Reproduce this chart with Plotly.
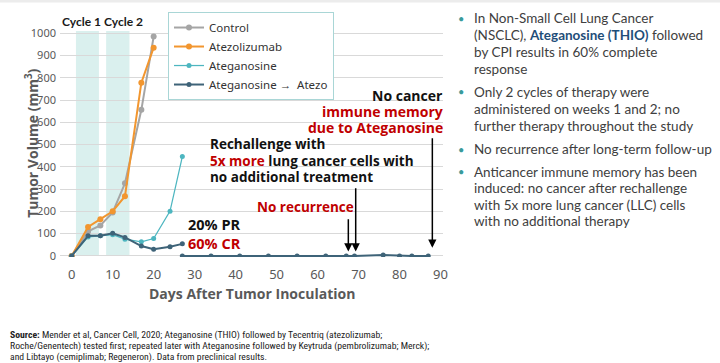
import plotly.graph_objects as go

# ---------------- data ----------------
days_early = [0, 4, 7, 10, 13, 17, 20]
control = [0, 110, 137, 195, 326, 656, 985]
atezolizumab = [0, 130, 165, 200, 268, 778, 935]

days_teg = [0, 4, 7, 10, 13, 17, 20, 24, 27]
ateganosine = [0, 85, 90, 95, 75, 63, 78, 201, 446]
teg_atezo = [0, 90, 90, 102, 83, 44, 30, 41, 54]

days_rechallenge = [27, 34, 41, 48, 55, 62, 67, 69, 76, 80, 83, 87]
rechallenge = [0, 0, 0, 0, 0, 0, 0, 0, 4, 0, 0, 0]

x_ticks = [0, 10, 20, 30, 40, 50, 60, 70, 80, 90]
y_ticks = [0, 100, 200, 300, 400, 500, 600, 700, 800, 900, 1000]
cycles = [("Cycle 1", 1.05, 6.65), ("Cycle 2", 8.4, 14.1)]

# ---------------- layout helpers ----------------
W, H = 720, 363
L, R, T, B = 60, 443, 31.0, 257.3


def px(x):
    return (x - L) / (R - L)


def py(y):
    return (B - y) / (B - T)


GRAY = "#A5A5A5"
ORANGE = "#F2962F"
TEAL = "#4DB6C0"
DARK = "#3E6378"
RED = "#C00000"
TXT = "#595959"

fig = go.Figure()

fig.add_trace(go.Scatter(x=days_early, y=control, mode="lines+markers", name="Control",
                         line=dict(color=GRAY, width=2), marker=dict(size=6, color=GRAY)))
fig.add_trace(go.Scatter(x=days_early, y=atezolizumab, mode="lines+markers", name="Atezolizumab",
                         line=dict(color=ORANGE, width=2), marker=dict(size=6, color=ORANGE)))
fig.add_trace(go.Scatter(x=days_teg, y=ateganosine, mode="lines+markers", name="Ateganosine",
                         line=dict(color=TEAL, width=1.25), marker=dict(size=5, color=TEAL)))
fig.add_trace(go.Scatter(x=days_teg + [None] + days_rechallenge,
                         y=teg_atezo + [None] + rechallenge,
                         mode="lines+markers", name="Ateganosine \u2192  Atezo",
                         line=dict(color=DARK, width=2), marker=dict(size=5, color=DARK)))

shapes = []
annotations = []
for label, x0, x1 in cycles:
    shapes.append(dict(type="rect", xref="x", yref="y", x0=x0, x1=x1, y0=0, y1=1012,
                       fillcolor="#D6EEEC", line=dict(width=0), layer="below", opacity=0.9))

# faint top border
shapes.append(dict(type="rect", xref="paper", yref="paper", x0=px(0), x1=px(720), y0=py(2.5), y1=py(0),
                   fillcolor="#ECECEC", line=dict(width=0)))

BF = "Open Sans"


def txt(x, y, s, size=14, color="#111111", xanchor="left", family=BF):
    annotations.append(dict(x=px(x), y=py(y), xref="paper", yref="paper", text=s, showarrow=False,
                            xanchor=xanchor, yanchor="middle", font=dict(size=size, color=color, family=family)))


txt(81, 21, "<b>%s</b>" % cycles[0][0], 12, "#1a1a1a", "center", "Lato")
txt(123.5, 21, "<b>%s</b>" % cycles[1][0], 12, "#1a1a1a", "center", "Lato")

txt(186, 224.5, "<b>20% PR</b>", 14.5)
txt(186, 243.5, "<b>60% CR</b>", 14.5, RED)
txt(208, 144, "<b>Rechallenge with</b>", 13.5)
txt(208, 160.7, "<b><span style='color:%s'>5x more</span> lung cancer cells with</b>" % RED, 13.5)
txt(208, 177.3, "<b>no additional treatment</b>", 13.5)
txt(305, 207.5, "<b>No recurrence</b>", 13.5, RED, "center")
txt(445, 95.7, "<b>No cancer</b>", 14, "#111111", "right")
txt(445, 111.5, "<b>immune memory</b>", 14, RED, "right")
txt(445, 127.5, "<b>due to Ateganosine</b>", 14, RED, "right")

# arrows
for xd, ytip, ytail in [(67.5, 20, 171), (69.3, 20, 310), (88.0, 36, 535)]:
    annotations.append(dict(x=xd, y=ytip, ax=xd, ay=ytail, xref="x", yref="y", axref="x", ayref="y",
                            showarrow=True, arrowhead=2, arrowsize=1.1, arrowwidth=1.5, arrowcolor="#000000",
                            text=""))

# axis titles
annotations.append(dict(x=px(20), y=py(144), xref="paper", yref="paper", text="<b>Tumor Volume (mm<sup>3</sup>)</b>",
                        textangle=-90, showarrow=False, font=dict(size=14, color=TXT, family=BF)))
annotations.append(dict(x=px(251.5), y=py(305), xref="paper", yref="paper", text="<b>Days After Tumor Inoculation</b>",
                        showarrow=False, font=dict(size=14, color=TXT, family=BF)))

# right bullets
RF = "Lato"
RC = "#404040"
BLUE = "#1F4E79"
bullets = [
    [(18.3, "In Non-Small Cell Lung Cancer"),
     (35.3, "(NSCLC), <b><span style='color:%s'>Ateganosine (THIO)</span></b> followed" % BLUE),
     (52.0, "by CPI results in 60% complete"),
     (69.0, "response")],
    [(92.0, "Only 2 cycles of therapy were"),
     (109.0, "administered on weeks 1 and 2; no"),
     (126.0, "further therapy throughout the study")],
    [(149.3, "No recurrence after long-term follow-up")],
    [(171.7, "Anticancer immune memory has been"),
     (188.3, "induced: no cancer after rechallenge"),
     (205.0, "with 5x more lung cancer (LLC) cells"),
     (221.7, "with no additional therapy")],
]
for group in bullets:
    txt(461, group[0][0], "\u2022", 11, "#3A9A9A", "center", RF)
    for y, s in group:
        txt(472, y, s, 13.5, RC, "left", RF)

# source
SF = "Liberation Sans Narrow, Roboto Condensed, Roboto"
src = [(335, "<b>Source:</b> Mender et al, Cancer Cell, 2020; Ateganosine (THIO) followed by Tecentriq (atezolizumab;"),
       (346.5, "Roche/Genentech) tested first; repeated later with Ateganosine followed by Keytruda (pembrolizumab; Merck);"),
       (357.5, "and Libtayo (cemiplimab; Regeneron). Data from preclinical results.")]
for y, s in src:
    txt(8, y, s, 9.7, "#222222", "left", SF)

fig.update_layout(
    width=W, height=H,
    margin=dict(l=L, r=W - R, t=T, b=H - B, pad=0, autoexpand=False),
    paper_bgcolor="white", plot_bgcolor="white",
    shapes=shapes, annotations=annotations,
    showlegend=True,
    legend=dict(x=px(168), y=py(12), xanchor="left", yanchor="top",
                bordercolor="#A9D6D6", borderwidth=1, bgcolor="white",
                font=dict(size=11.5, color="#333333", family="Noto Sans"),
                itemwidth=30, tracegroupgap=0),
    xaxis=dict(range=[-2.85, 90.6], tickvals=x_ticks, showgrid=False, zeroline=False, showline=False,
               tickfont=dict(size=13, color=TXT, family="Noto Sans"), ticks="", ticklabelstandoff=8),
    yaxis=dict(range=[-5, 1010], tickvals=y_ticks, showgrid=True, gridcolor="#D9D9D9", gridwidth=1,
               zeroline=False, showline=False, tickfont=dict(size=11, color=TXT, family="Noto Sans"), ticks="",
               ticklabelstandoff=3),
)

fig.write_html("out.html", config={"displayModeBar": False},
               post_script="document.body.style.margin='0';document.body.style.overflow='hidden';")
